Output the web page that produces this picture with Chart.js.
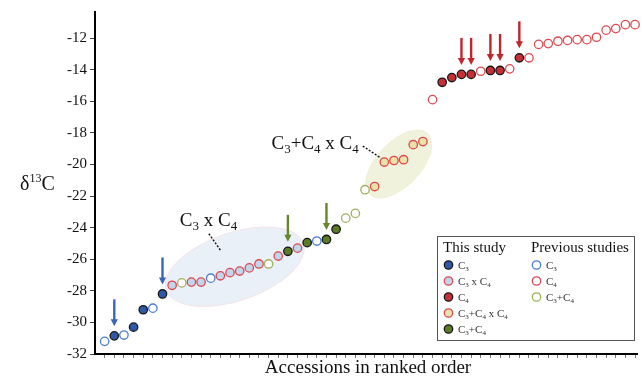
<!DOCTYPE html>
<html>
<head>
<meta charset="utf-8">
<script src="https://cdn.jsdelivr.net/npm/chart.js@4.4.1/dist/chart.umd.min.js"></script>
<style>
  html, body { margin: 0; padding: 0; background: #fff; }
  #wrap { width: 644px; height: 384px; }
</style>
</head>
<body>
<div id="wrap"><canvas id="chart" width="644" height="384"></canvas></div>
<script>
/* δ13C of accessions, ranked low to high */

const values = [
  -31.2, -30.85, -30.8, -30.3, -29.2, -29.1, -28.2, -27.65, -27.5, -27.45,
  -27.45, -27.2, -27.05, -26.85, -26.75, -26.55, -26.3, -26.3, -25.8, -25.5,
  -25.3, -24.95, -24.85, -24.75, -24.1, -23.4, -23.1, -21.6, -21.4, -19.85,
  -19.75, -19.7, -18.75, -18.55, -15.9, -14.8, -14.5, -14.3, -14.3, -14.1,
  -14.05, -14.05, -13.95, -13.25, -13.25, -12.4, -12.35, -12.2, -12.15, -12.1,
  -12.1, -11.95, -11.5, -11.4, -11.15, -11.15
];

// t = this study, p = previous studies
const groups = [
  'pC3', 'tC3', 'pC3', 'tC3', 'tC3', 'pC3', 'tC3', 'tX', 'pC34', 'tX',
  'tX', 'pC3', 'tX', 'tX', 'tX', 'tX', 'tX', 'pC34', 'tX', 'tC34',
  'tX', 'tC34', 'pC3', 'tC34', 'tC34', 'pC34', 'pC34', 'pC34', 'tY', 'tY',
  'tY', 'tY', 'tY', 'tY', 'pC4', 'tC4', 'tC4', 'tC4', 'tC4', 'pC4',
  'tC4', 'tC4', 'pC4', 'tC4', 'pC4', 'pC4', 'pC4', 'pC4', 'pC4', 'pC4',
  'pC4', 'pC4', 'pC4', 'pC4', 'pC4', 'pC4'
];

const ranks = values.map((v, i) => i + 1);
const yTicks = [-32, -30, -28, -26, -24, -22, -20, -18, -16, -14, -12];
const arrowRanks = [2, 7, 20, 24, 38, 39, 41, 42, 44];

const SERIF = '"Liberation Serif", "DejaVu Serif", serif';

const STYLE = {
  tC3:  { label: 'C3',         study: 'this', fill: '#2f58a6', border: '#171717' },
  tX:   { label: 'C3 x C4',    study: 'this', fill: '#c3d5ec', border: '#e0484f' },
  tC4:  { label: 'C4',         study: 'this', fill: '#c62f36', border: '#171717' },
  tY:   { label: 'C3+C4 x C4', study: 'this', fill: '#e8e3a6', border: '#e0484f' },
  tC34: { label: 'C3+C4',      study: 'this', fill: '#5b7b27', border: '#171717' },
  pC3:  { label: 'C3',         study: 'prev', fill: '#ffffff', border: '#4a7ed2' },
  pC4:  { label: 'C4',         study: 'prev', fill: '#ffffff', border: '#e0484f' },
  pC34: { label: 'C3+C4',      study: 'prev', fill: '#ffffff', border: '#9db15e' },
};

const ARROW_COLOR = { tC3: '#3a66b8', tC34: '#66862c', tC4: '#c3252d' };

const datasets = Object.keys(STYLE).map(key => ({
  label: key,
  data: ranks.filter((r, i) => groups[i] === key).map(r => ({ x: r, y: values[r - 1] })),
  backgroundColor: STYLE[key].fill,
  borderColor: STYLE[key].border,
  pointRadius: 4.2,
  pointBorderWidth: 1.3,
  pointHoverRadius: 4.2,
  showLine: false,
  clip: false,
}));

// text like "C3+C4 x C4" with the digits after C set as subscripts
function drawChem(ctx, str, x, y, size, align) {
  const parts = [];
  for (let i = 0; i < str.length; i++) {
    const ch = str[i];
    const sub = /[0-9]/.test(ch) && str[i - 1] === 'C';
    parts.push({ ch, sub });
  }
  const big = size + 'px ' + SERIF;
  const small = Math.round(size * 0.68) + 'px ' + SERIF;
  let width = 0;
  parts.forEach(p => {
    ctx.font = p.sub ? small : big;
    p.w = ctx.measureText(p.ch).width;
    width += p.w;
  });
  let cx = align === 'right' ? x - width : x;
  ctx.textAlign = 'left';
  ctx.textBaseline = 'alphabetic';
  parts.forEach(p => {
    ctx.font = p.sub ? small : big;
    ctx.fillText(p.ch, cx, p.sub ? y + size * 0.22 : y);
    cx += p.w;
  });
}

function ellipseFor(chart, key, pad, b, tilt) {
  const xs = chart.scales.x, ys = chart.scales.y;
  const idx = ranks.filter((r, i) => groups[i] === key);
  const r1 = idx[0], r2 = idx[idx.length - 1];
  const x1 = xs.getPixelForValue(r1), y1 = ys.getPixelForValue(values[r1 - 1]);
  const x2 = xs.getPixelForValue(r2), y2 = ys.getPixelForValue(values[r2 - 1]);
  return {
    cx: (x1 + x2) / 2,
    cy: (y1 + y2) / 2,
    a: Math.hypot(x2 - x1, y2 - y1) / 2 + pad,
    b,
    ang: Math.atan2(y2 - y1, x2 - x1) + tilt,
  };
}

function dotted(ctx, x1, y1, x2, y2) {
  ctx.save();
  ctx.strokeStyle = '#111';
  ctx.lineWidth = 1.4;
  ctx.setLineDash([2, 1.6]);
  ctx.beginPath();
  ctx.moveTo(x1, y1);
  ctx.lineTo(x2, y2);
  ctx.stroke();
  ctx.restore();
}

function marker(ctx, x, y, st) {
  ctx.beginPath();
  ctx.arc(x, y, 4.2, 0, Math.PI * 2);
  ctx.fillStyle = st.fill;
  ctx.fill();
  ctx.lineWidth = 1.3;
  ctx.strokeStyle = st.border;
  ctx.stroke();
}

const overlay = {
  id: 'overlay',
  beforeDatasetsDraw(chart) {
    const ctx = chart.ctx;
    const shapes = [
      [ellipseFor(chart, 'tX', 7, 34, -0.04), '#e9f0f8', '#f4e2e7'],
      [ellipseFor(chart, 'tY', 9, 22, -0.06), '#f0f2dc', '#eef0d6'],
    ];
    shapes.forEach(([e, fill, edge]) => {
      ctx.save();
      ctx.beginPath();
      ctx.ellipse(e.cx, e.cy, e.a, e.b, e.ang, 0, Math.PI * 2);
      ctx.fillStyle = fill;
      ctx.fill();
      ctx.strokeStyle = edge;
      ctx.lineWidth = 1;
      ctx.stroke();
      ctx.restore();
    });
  },
  afterDatasetsDraw(chart) {
    const ctx = chart.ctx;
    const xs = chart.scales.x, ys = chart.scales.y;

    // arrows over the accessions from this study
    arrowRanks.forEach(r => {
      const x = xs.getPixelForValue(r);
      const tip = ys.getPixelForValue(values[r - 1]) - 9.5;
      const col = ARROW_COLOR[groups[r - 1]];
      ctx.save();
      ctx.strokeStyle = col;
      ctx.fillStyle = col;
      ctx.lineWidth = 2.4;
      ctx.beginPath();
      ctx.moveTo(x, tip - 27);
      ctx.lineTo(x, tip - 6);
      ctx.stroke();
      ctx.beginPath();
      ctx.moveTo(x - 3.6, tip - 7);
      ctx.lineTo(x + 3.6, tip - 7);
      ctx.lineTo(x, tip);
      ctx.closePath();
      ctx.fill();
      ctx.restore();
    });

    // ellipse labels
    ctx.save();
    ctx.fillStyle = '#111';
    const eb = ellipseFor(chart, 'tX', 7, 34, -0.04);
    drawChem(ctx, 'C3 x C4', eb.cx - 55, eb.cy - 41, 19, 'left');
    dotted(ctx, eb.cx - 26, eb.cy - 33, eb.cx - 14, eb.cy - 16);
    const ey = ellipseFor(chart, 'tY', 9, 22, -0.06);
    drawChem(ctx, 'C3+C4 x C4', ey.cx - 40, ey.cy - 15, 19, 'right');
    dotted(ctx, ey.cx - 36, ey.cy - 18, ey.cx - 18, ey.cy - 6);

    // axis titles
    ctx.font = '20px ' + SERIF;
    ctx.textAlign = 'left';
    ctx.fillText('\u03b4', 20, 190);
    let w = ctx.measureText('\u03b4').width;
    ctx.font = '12px ' + SERIF;
    ctx.fillText('13', 20 + w, 182);
    w += ctx.measureText('13').width;
    ctx.font = '20px ' + SERIF;
    ctx.fillText('C', 20 + w, 190);

    ctx.font = '19px ' + SERIF;
    ctx.textAlign = 'center';
    ctx.fillText('Accessions in ranked order', (chart.chartArea.left + chart.chartArea.right) / 2 + 2, 373);
    ctx.restore();

    // legend
    ctx.save();
    ctx.fillStyle = '#fff';
    ctx.fillRect(437.5, 236.5, 197, 104);
    ctx.strokeStyle = '#555';
    ctx.lineWidth = 1;
    ctx.strokeRect(437.5, 236.5, 197, 104);
    ctx.fillStyle = '#111';
    ctx.font = '15px ' + SERIF;
    ctx.textAlign = 'left';
    ctx.fillText('This study', 443, 252);
    ctx.fillText('Previous studies', 531, 252);
    const cols = { this: { mx: 448.5, tx: 458, row: 0 }, prev: { mx: 536.5, tx: 546, row: 0 } };
    Object.keys(STYLE).forEach(key => {
      const st = STYLE[key];
      const c = cols[st.study];
      const y = 265 + c.row * 16;
      marker(ctx, c.mx, y, st);
      ctx.fillStyle = '#333';
      drawChem(ctx, st.label, c.tx, y + 3.5, 11, 'left');
      c.row++;
    });
    ctx.restore();
  },
};

new Chart(document.getElementById('chart'), {
  type: 'scatter',
  data: { datasets },
  options: {
    responsive: false,
    animation: false,
    events: [],
    layout: { padding: { top: 11, right: 7, left: 0, bottom: 0 } },
    plugins: {
      legend: { display: false },
      tooltip: { enabled: false },
    },
    scales: {
      x: {
        type: 'linear',
        min: 0,
        max: 56.2,
        afterBuildTicks: s => { s.ticks = ranks.map(v => ({ value: v })); },
        afterFit: s => { s.height = 30; },
        ticks: { callback: () => '', autoSkip: false },
        grid: { drawOnChartArea: false, drawTicks: true, tickLength: 4, color: '#777', lineWidth: 1 },
        border: { display: true, color: '#000', width: 2 },
      },
      y: {
        type: 'linear',
        min: -32,
        max: -10.35,
        afterBuildTicks: s => { s.ticks = yTicks.map(v => ({ value: v })); },
        afterFit: s => { s.width = 95; },
        ticks: {
          font: { family: SERIF, size: 15 },
          color: '#111',
          padding: 3,
          callback: v => String(v),
        },
        grid: { drawOnChartArea: false, drawTicks: true, tickLength: 5, color: '#444', lineWidth: 1 },
        border: { display: true, color: '#000', width: 2 },
      },
    },
  },
  plugins: [overlay],
});
</script>
</body>
</html>
